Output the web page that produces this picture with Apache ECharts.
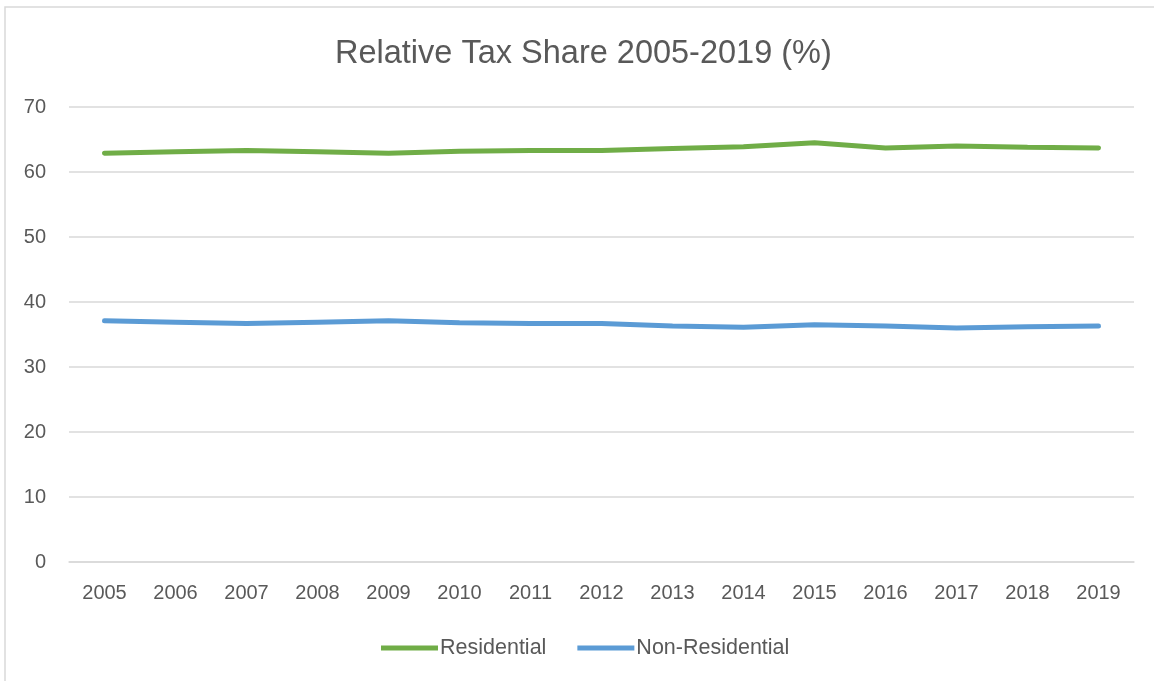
<!DOCTYPE html>
<html lang="en">
<head>
  <meta charset="UTF-8">
  <script src="https://cdn.jsdelivr.net/npm/echarts@6/dist/echarts.min.js"></script>
  <style>
    html,body{margin:0;padding:0;background:#fff;}
  </style>
</head>
<body>
<div id="main" style="width:1154px;height:681px;"></div>

<script>
  var years = ['2005','2006','2007','2008','2009','2010','2011','2012','2013','2014','2015','2016','2017','2018','2019'];
  var residential = [62.9, 63.1, 63.3, 63.1, 62.9, 63.2, 63.3, 63.3, 63.6, 63.9, 64.5, 63.7, 64.0, 63.8, 63.7];
  var nonResidential = [37.1, 36.9, 36.7, 36.9, 37.1, 36.8, 36.7, 36.7, 36.3, 36.1, 36.5, 36.3, 36.0, 36.2, 36.3];
  var yTicks = [0, 70, 10];  // min, max, interval

  var main = echarts.init(document.querySelector('#main'));
  var font = 'Liberation Sans';

  main.setOption({
    animation:false,
    graphic:[{
      type:'rect',
      shape:{x:5,y:7,width:1200,height:700},
      style:{fill:'none',stroke:'#D9D9D9',lineWidth:1.5},
      silent:true
    }],
    title:{
      text:'Relative Tax Share 2005-2019 (%)',
      left:330,top:33,
      textStyle:{color:'#595959',fontSize:32.5,fontWeight:'normal',fontFamily:font}
    },
    legend:{
      data:['Residential','Non-Residential'],
      bottom:17,left:376,
      icon:'rect',itemWidth:57,itemHeight:5,itemGap:31,
      textStyle:{color:'#595959',fontSize:21.5,fontFamily:font,padding:[0,0,0,-3]}
    },
    grid:{left:69,right:20,top:107,bottom:119},
    xAxis:{
      type:'category',data:years,
      axisLine:{lineStyle:{color:'#D9D9D9',width:1.5}},
      axisTick:{show:false},
      axisLabel:{color:'#595959',fontSize:20,fontFamily:font,margin:21}
    },
    yAxis:{
      type:'value',min:yTicks[0],max:yTicks[1],interval:yTicks[2],
      axisLine:{show:false},axisTick:{show:false},
      splitLine:{lineStyle:{color:'#D9D9D9',width:1.5}},
      axisLabel:{color:'#595959',fontSize:20,fontFamily:font,margin:23}
    },
    series:[{
      name:'Residential',
      type:'line',
      data:residential,
      symbol:'none',
      lineStyle:{color:'#70AD47',width:5,cap:'round'},
      itemStyle:{color:'#70AD47'}
    },{
      name:'Non-Residential',
      type:'line',
      data:nonResidential,
      symbol:'none',
      lineStyle:{color:'#5B9BD5',width:5,cap:'round'},
      itemStyle:{color:'#5B9BD5'}
    }]
  });
</script>
</body>
</html>
